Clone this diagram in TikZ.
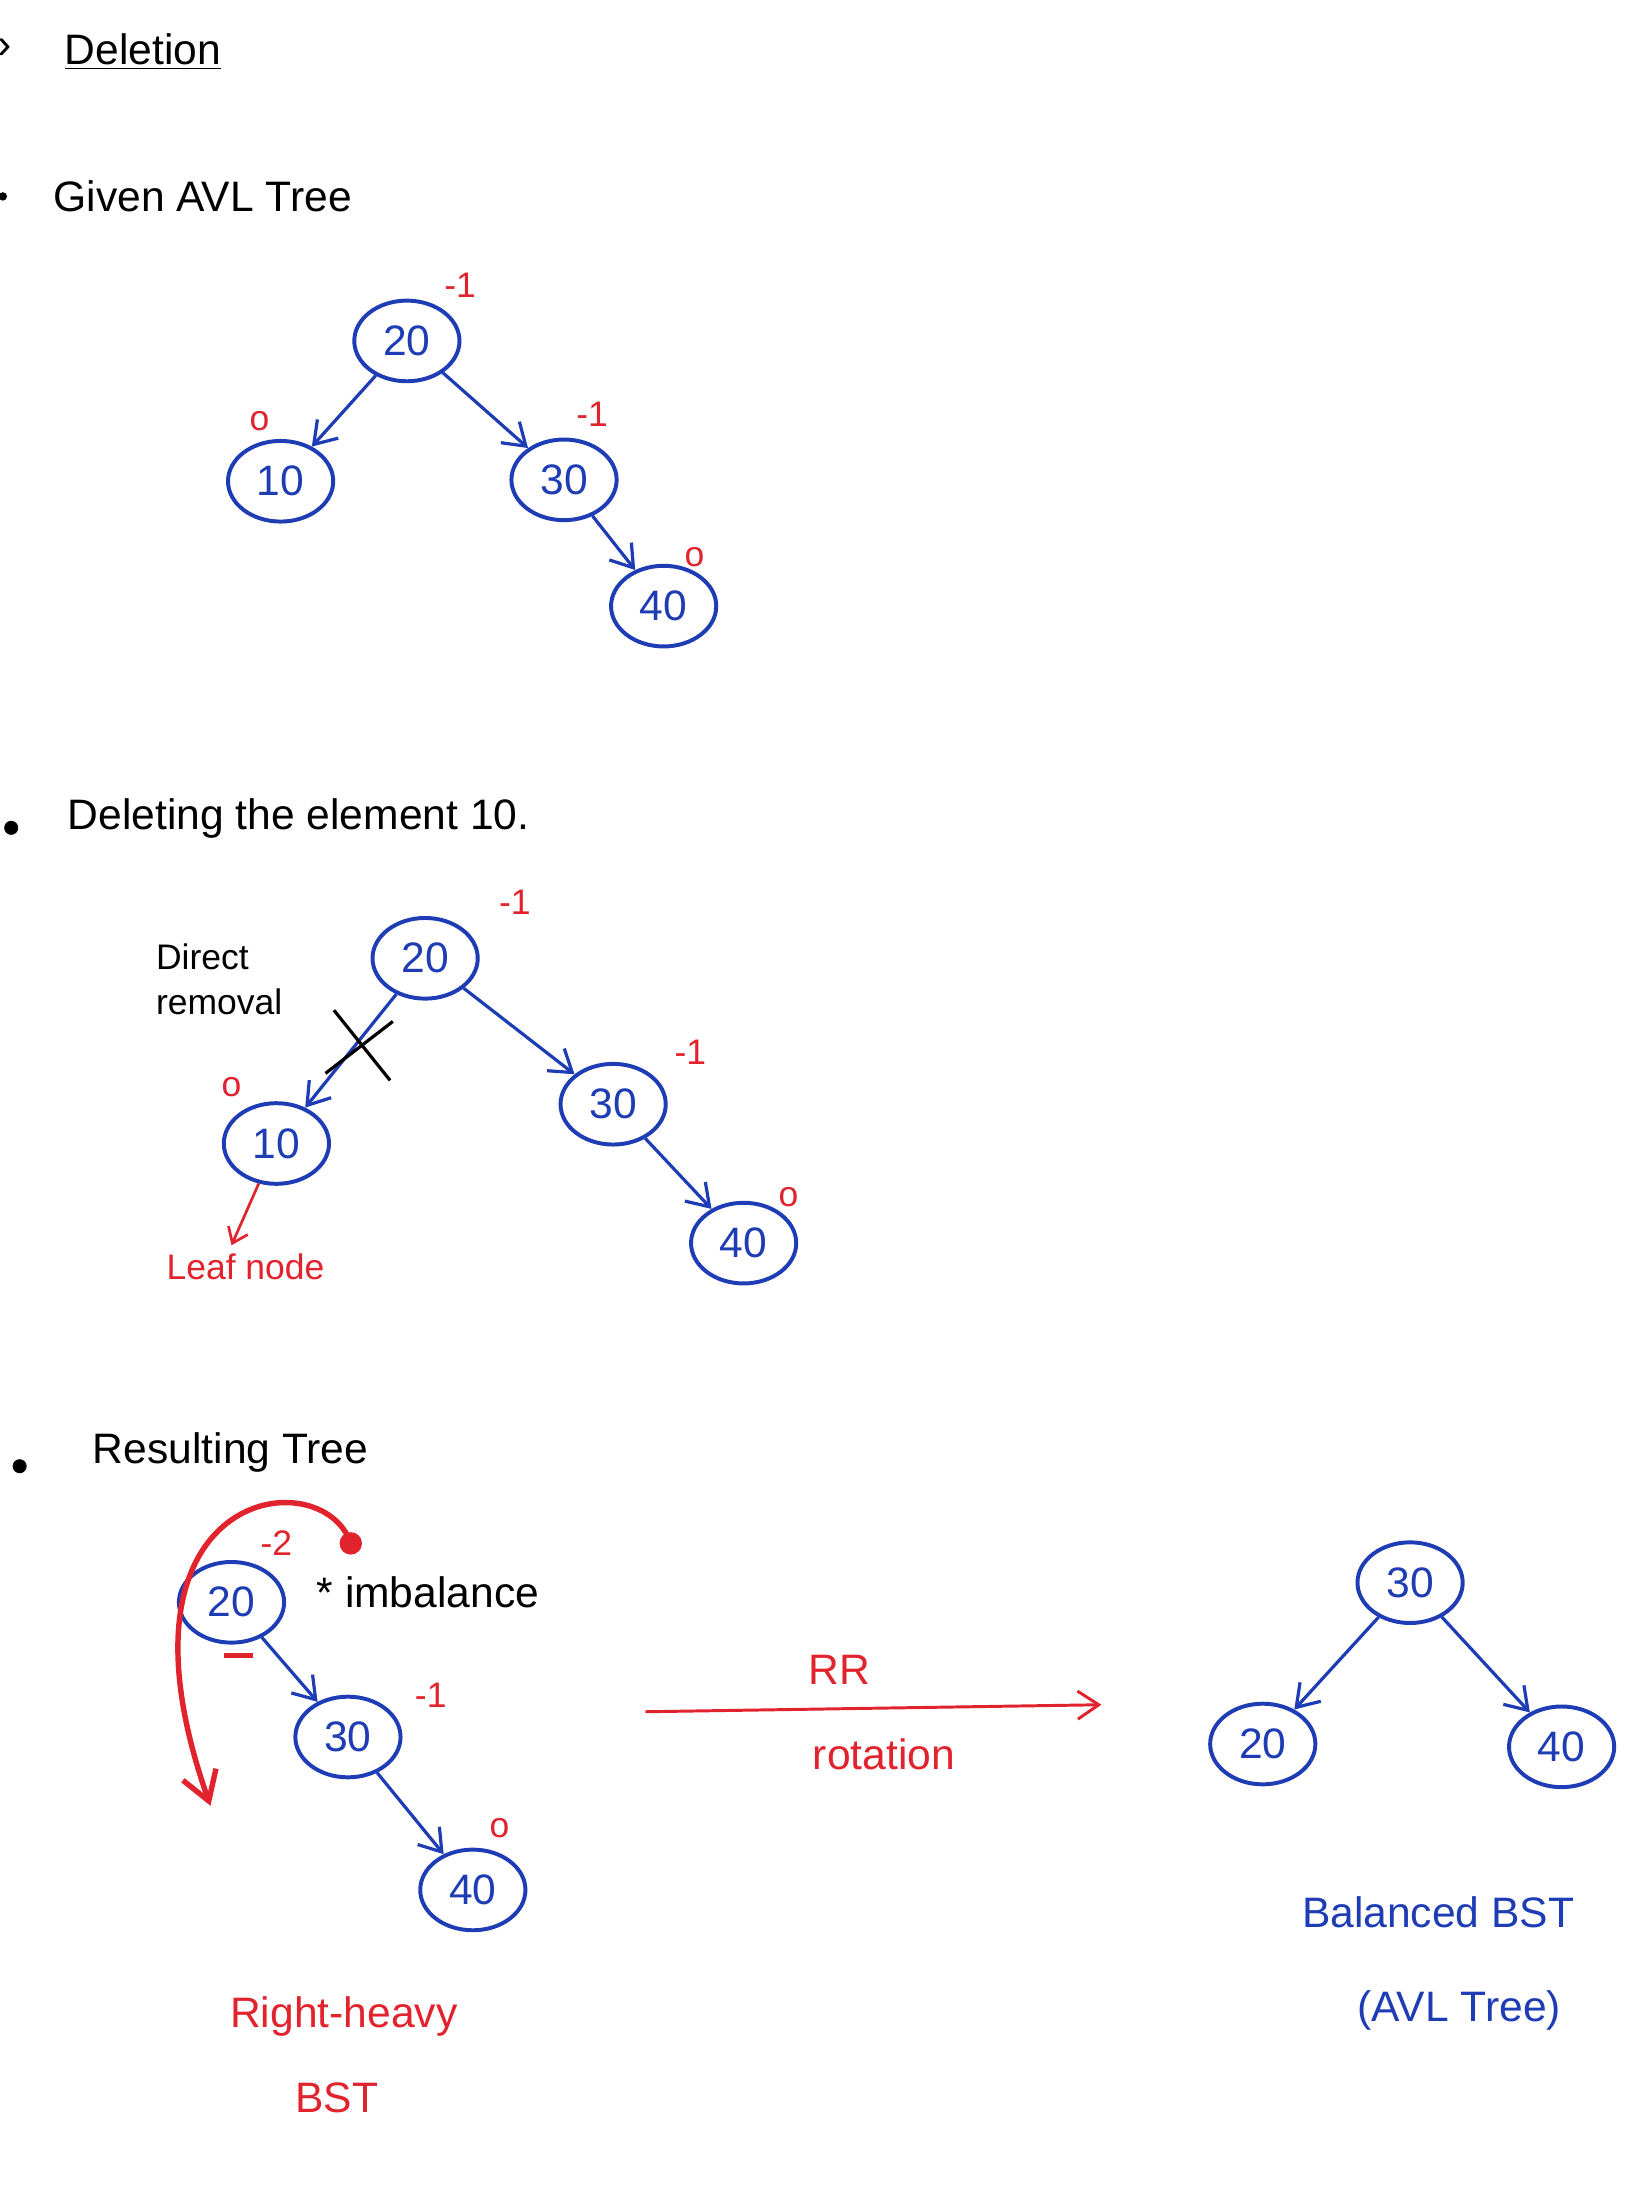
\documentclass[tikz,border=0pt]{standalone}
\usepackage{fontspec}
\setmainfont{Liberation Sans}
\usetikzlibrary{shapes.geometric,arrows.meta}
\definecolor{bl}{RGB}{30,60,180}
\definecolor{rd}{RGB}{225,35,45}
\tikzset{
 tn/.style={ellipse,draw=bl,line width=1.6pt,minimum width=1.5cm,minimum height=1.15cm,inner sep=0pt,font=\LARGE,text=bl},
 ed/.style={draw=bl,line width=1.3pt,-{Straight Barb[length=3mm,width=4mm]}},
 bf/.style={text=rd,font=\Large},
 hd/.style={font=\LARGE,anchor=west},
 rl/.style={text=rd,font=\Large}
}
\begin{document}
\begin{tikzpicture}[x=0.02cm,y=-0.02cm]
\useasboundingbox (0,0) rectangle (1175,1568);
\fill[white] (0,0) rectangle (1175,1568);
% headings
\node[hd] (h1) at (40,37) {\underline{Deletion}};
\node (h0) at (3,35) {\LARGE ›};
\node[hd] (h2) at (32,140) {Given AVL Tree};
\fill (2,140) circle (3);
\node[hd] (h3) at (42,583) {Deleting the element 10.};
\fill (8,590) circle (5);
\node[hd] (h4) at (60,1035) {Resulting Tree};
\fill (14,1045) circle (5);
% tree 1
\node[tn] (a20) at (290,243) {20};
\node[tn] (a10) at (200,343) {10};
\node[tn] (a30) at (402,342) {30};
\node[tn] (a40) at (473,432) {40};
\draw[ed] (a20) -- (a10); \draw[ed] (a20) -- (a30); \draw[ed] (a30) -- (a40);
\node[bf] (b1) at (328,203) {-1};
\node[bf] (b2) at (185,300) {o};
\node[bf] (b3) at (422,295) {-1};
\node[bf] (b4) at (495,397) {o};
% tree 2
\node[tn] (c20) at (303,683) {20};
\node[tn] (c10) at (197,815) {10};
\node[tn] (c30) at (437,787) {30};
\node[tn] (c40) at (530,886) {40};
\draw[ed] (c20) -- (c10); \draw[ed] (c20) -- (c30); \draw[ed] (c30) -- (c40);
\coordinate (x1) at (238,720); \coordinate (x2) at (278,770);
\coordinate (x3) at (232,765); \coordinate (x4) at (280,728);
\draw[line width=1.3pt] (x1) -- (x2); \draw[line width=1.3pt] (x3) -- (x4);
\node[bf] (d1) at (367,643) {-1};
\node[bf] (d2) at (165,775) {o};
\node[bf] (d3) at (492,750) {-1};
\node[bf] (d4) at (562,853) {o};
\node[font=\Large,align=left,anchor=west] (dr) at (105,698) {Direct\\removal};
\node[rl] (lf) at (175,903) {Leaf node};
\draw[draw=rd,line width=1.1pt,-{Straight Barb[length=2mm,width=3mm]}] (c10) -- (lf.north -| 165,0) ;
% tree 3
\node[tn] (e20) at (165,1142) {20};
\node[tn] (e30) at (248,1238) {30};
\node[tn] (e40) at (337,1347) {40};
\draw[ed] (e20) -- (e30); \draw[ed] (e30) -- (e40);
\node[bf] (f1) at (197,1100) {-2};
\node[font=\LARGE] (imb) at (305,1135) {* imbalance};
\node[bf] (f2) at (307,1208) {-1};
\node[bf] (f3) at (356,1303) {o};
\draw[rd,line width=2pt] (160,1180) -- (180,1180);
\coordinate (dot) at (250,1100);
\fill[rd] (dot) circle (8);
\coordinate (cend) at (150,1287);
\draw[rd,line width=2.2pt,-{Straight Barb[length=4mm,width=5mm]}] (dot) .. controls (230,1040) and (70,1060) .. (cend);
\node[rl,font=\LARGE] (rh) at (245,1437) {Right-heavy};
\node[rl,font=\LARGE] (rb) at (240,1495) {BST};
% rotation
\coordinate (r1) at (460,1220); \coordinate (r2) at (785,1215);
\draw[rd,line width=1.2pt,-{Straight Barb[length=3mm,width=4mm]}] (r1) -- (r2);
\node[rl,font=\LARGE] (rr) at (598,1190) {RR};
\node[rl,font=\LARGE] (rt) at (630,1250) {rotation};
% tree 4
\node[tn] (g30) at (1005,1128) {30};
\node[tn] (g20) at (900,1243) {20};
\node[tn] (g40) at (1113,1245) {40};
\draw[ed] (g30) -- (g20); \draw[ed] (g30) -- (g40);
\node[font=\LARGE,text=bl] (bb) at (1025,1363) {Balanced BST};
\node[font=\LARGE,text=bl] (avl) at (1040,1433) {(AVL Tree)};
\end{tikzpicture}
\end{document}
